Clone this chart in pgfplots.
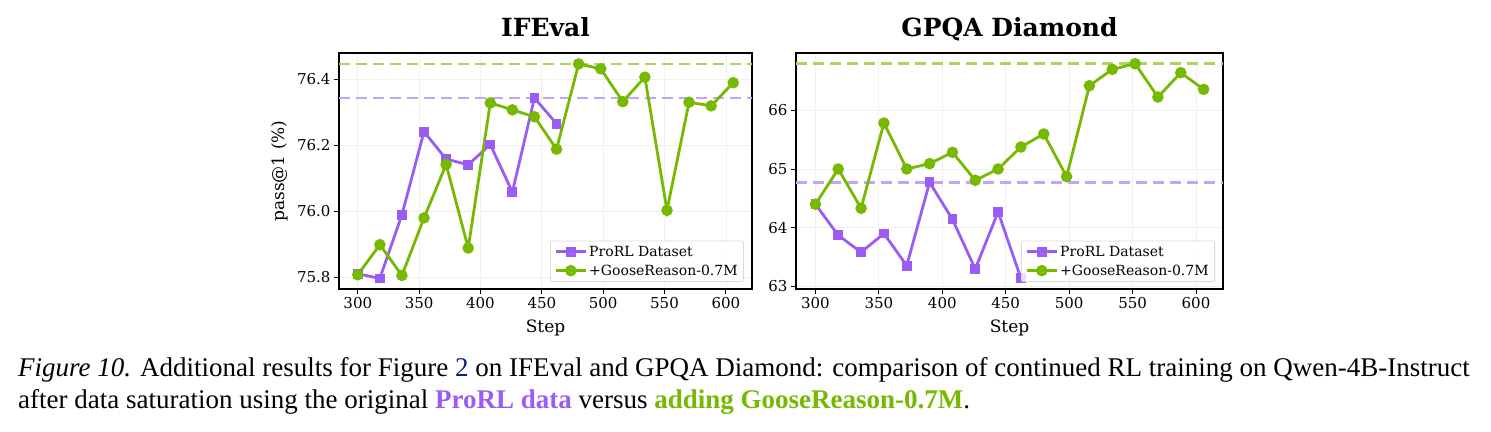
\documentclass[border=0pt]{standalone}
\usepackage{fontspec}
\setmainfont{DejaVu Serif}
\newfontfamily\capfont{Liberation Serif}
\usepackage{pgfplots}
\pgfplotsset{compat=1.18}
\definecolor{prorl}{HTML}{9B5CF6}
\definecolor{goose}{HTML}{76B900}
\definecolor{prorlL}{HTML}{C4A3FA}
\definecolor{gooseL}{HTML}{A8D65E}
\definecolor{linkblue}{HTML}{0A1E8C}
\pgfplotsset{
  common/.style={
    scale only axis,
    anchor=south west,
    axis line style={black, line width=1.3pt},
    tick align=outside,
    tick pos=left,
    major tick length=5pt,
    tick style={black, line width=0.9pt},
    xtick={300,350,...,600},
    xmin=284.7, xmax=621.3,
    grid=major,
    grid style={black!6, line width=0.7pt},
    /pgf/number format/assume math mode=true,
    ticklabel style={font=\fontsize{15}{17}\selectfont},
    label style={font=\fontsize{17}{20}\selectfont},
    xlabel={Step},
    xlabel style={at={(axis description cs:0.5,-0.1864)}, anchor=base},
    title style={font=\fontsize{25}{28}\selectfont\bfseries, at={(axis description cs:0.5,1.0424)}, anchor=base},
    legend style={at={(1,0)}, anchor=south east, xshift=-8pt, yshift=7pt,
      font=\fontsize{14}{16}\selectfont, draw=black!15, rounded corners=2pt,
      line width=0.8pt, fill=white, fill opacity=0.8, text opacity=1, draw opacity=1,
      inner xsep=4pt, inner ysep=3pt, row sep=3pt},
    legend cell align=left,
    legend image code/.code={\draw[mark repeat=2,mark phase=2] plot coordinates {(0pt,0pt) (15pt,0pt) (30pt,0pt)};},
  },
  pline/.style={color=prorl, line width=2.8pt, mark=square*, mark size=3.5pt, mark options={solid}},
  gline/.style={color=goose, line width=2.8pt, mark=*, mark size=4.3pt, mark options={solid}},
}
\begin{document}
\begin{tikzpicture}[x=1pt,y=1pt]
\path[use as bounding box] (0pt,0pt) rectangle (1491pt,431pt);
\begin{axis}[common,
  at={(339pt,142pt)}, width=413pt, height=236pt,
  ymin=75.765, ymax=76.479,
  ytick={75.8,76.0,76.2,76.4},
  yticklabel style={/pgf/number format/.cd, fixed, fixed zerofill, precision=1},
  title={IFEval},
  ylabel={pass@1 (\%)},
  ylabel style={at={(axis description cs:-0.1308,0.5)}, anchor=base},
]
\addplot[forget plot, color=prorlL, line width=2.6pt, dash pattern=on 11pt off 6pt] coordinates {(284.7,76.343) (621.3,76.343)};
\addplot[forget plot, color=gooseL, line width=2.6pt, dash pattern=on 11pt off 6pt] coordinates {(284.7,76.446) (621.3,76.446)};
\addplot[pline] coordinates {
(300,75.811) (318,75.797) (336,75.990) (354,76.241) (372,76.158)
(390,76.141) (408,76.202) (426,76.058) (444,76.343) (462,76.265)};
\addlegendentry{ProRL Dataset}
\addplot[gline] coordinates {
(300,75.808) (318,75.899) (336,75.806) (354,75.980) (372,76.142)
(390,75.889) (408,76.328) (426,76.307) (444,76.286) (462,76.188)
(480,76.446) (498,76.431) (516,76.332) (534,76.406) (552,76.003)
(570,76.330) (588,76.319) (606,76.389)};
\addlegendentry{+GooseReason-0.7M}
\end{axis}
\begin{axis}[common,
  at={(796pt,142pt)}, width=427pt, height=236pt,
  ymin=62.953, ymax=66.978,
  ytick={63,64,65,66},
  title={GPQA Diamond},
]
\addplot[forget plot, color=prorlL, line width=2.6pt, dash pattern=on 11pt off 6pt] coordinates {(284.7,64.773) (621.3,64.773)};
\addplot[forget plot, color=gooseL, line width=2.6pt, dash pattern=on 11pt off 6pt] coordinates {(284.7,66.795) (621.3,66.795)};
\addplot[pline] coordinates {
(300,64.398) (318,63.869) (336,63.580) (354,63.898) (372,63.352)
(390,64.773) (408,64.142) (426,63.295) (444,64.267) (462,63.136)};
\addlegendentry{ProRL Dataset}
\addplot[gline] coordinates {
(300,64.398) (318,65.000) (336,64.330) (354,65.784) (372,65.000)
(390,65.091) (408,65.284) (426,64.807) (444,65.000) (462,65.375)
(480,65.597) (498,64.869) (516,66.420) (534,66.699) (552,66.795)
(570,66.227) (588,66.642) (606,66.358)};
\addlegendentry{+GooseReason-0.7M}
\end{axis}
\node[anchor=base west, inner sep=0pt, font=\capfont\fontsize{27}{31}\selectfont] at (18pt,54pt)
 {\textit{Figure 10.} Additional results for Figure {\color{linkblue}2} on IFEval and GPQA Diamond: comparison of continued RL training on Qwen-4B-Instruct};
\node[anchor=base west, inner sep=0pt, font=\capfont\fontsize{27}{31}\selectfont] at (18pt,22pt)
 {after data saturation using the original \textbf{\color{prorl}ProRL data} versus \textbf{\color{goose}adding GooseReason-0.7M}.};
\end{tikzpicture}
\end{document}
